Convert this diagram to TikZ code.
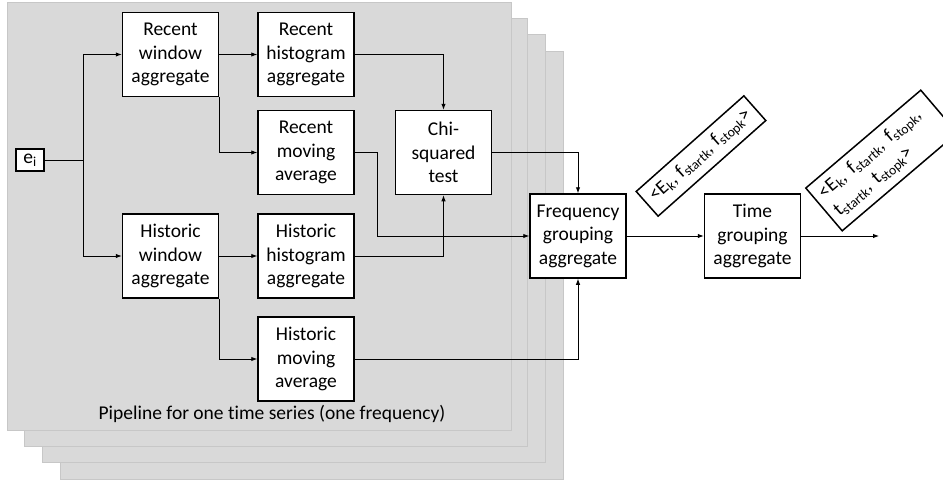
\documentclass[tikz,border=0pt]{standalone}
\usepackage{fontspec}
\setmainfont[Ligatures=NoCommon]{Carlito}
\usetikzlibrary{arrows.meta}
\begin{document}
\begin{tikzpicture}[x=1pt,y=1pt,
    font=\fontsize{19.5}{23.5}\selectfont,
    box/.style={draw,line width=1.5pt,fill=white,align=center,
      minimum width=96pt,minimum height=84pt,inner sep=1pt},
    page/.style={fill=black!15,draw=black!22,line width=0.8pt},
    tuple/.style={draw,line width=1.5pt,fill=white},
    >={Latex[length=6pt,width=4.5pt]}]
  \clip (0,0) rectangle (943,-485);
  % stack of pipelines, back to front
  \foreach \i in {3,2,1}
    \draw[page] ({7+\i*17.7},{-2-\i*16.3}) rectangle ++(503,-428);
  \draw[page] (7,-2) rectangle ++(504,-428);
  \draw
    (30,-160) node[box,minimum width=28pt,minimum height=22pt,inner sep=0pt] (ei){e\textsubscript{i}}
    (170.5,-54.5) node[box] (rwin){Recent\\window\\aggregate}
    (306,-54.5) node[box] (rhist){Recent\\histogram\\aggregate}
    (306,-152.5) node[box] (rmov){Recent\\moving\\average}
    (443.5,-152.5) node[box] (chi){Chi-\\squared\\test}
    (170.5,-256) node[box] (hwin){Historic\\window\\aggregate}
    (306,-256) node[box] (hhist){Historic\\histogram\\aggregate}
    (306,-359) node[box] (hmov){Historic\\moving\\average}
    (578,-236) node[box] (freq){Frequency\\grouping\\aggregate}
    (752.5,-236) node[box] (time){Time\\grouping\\aggregate}
    (272,-414) node (caption){Pipeline for one time series (one frequency)};
  \draw
    (701,-156) node[tuple,rotate=41.6,minimum width=144pt,minimum height=33pt,inner sep=2pt] (ftuple)
      {<E\textsubscript{k}, f\textsubscript{startk}, f\textsubscript{stopk}>}
    (881.5,-160.5) node[tuple,rotate=40.4,text width=137pt,align=left,inner sep=7pt,
      minimum height=52pt] (ttuple)
      {<E\textsubscript{k}, f\textsubscript{startk}, f\textsubscript{stopk},\\
       t\textsubscript{startk}, t\textsubscript{stopk}>};
  \coordinate (split) at (83,-160);
  \coordinate (out) at (879,-236);
  \begin{scope}[->,line width=0.9pt]
    \draw[-] (ei) -- (split);
    \draw (split) |- (rwin);
    \draw (split) |- (hwin);
    \draw (rwin) -- (rhist);
    \draw (rwin.south east) |- (rmov);
    \draw (rhist) -| (chi);
    \draw (rmov.east) -- ++(23,0) |- (freq.west);
    \draw (chi.east) -| (freq);
    \draw (hwin) -- (hhist);
    \draw (hwin.south east) |- (hmov);
    \draw (hhist) -| (chi);
    \draw (hmov) -| (freq);
    \draw (freq) -- (time);
    \draw (time) -- (out);
  \end{scope}
\end{tikzpicture}
\end{document}
